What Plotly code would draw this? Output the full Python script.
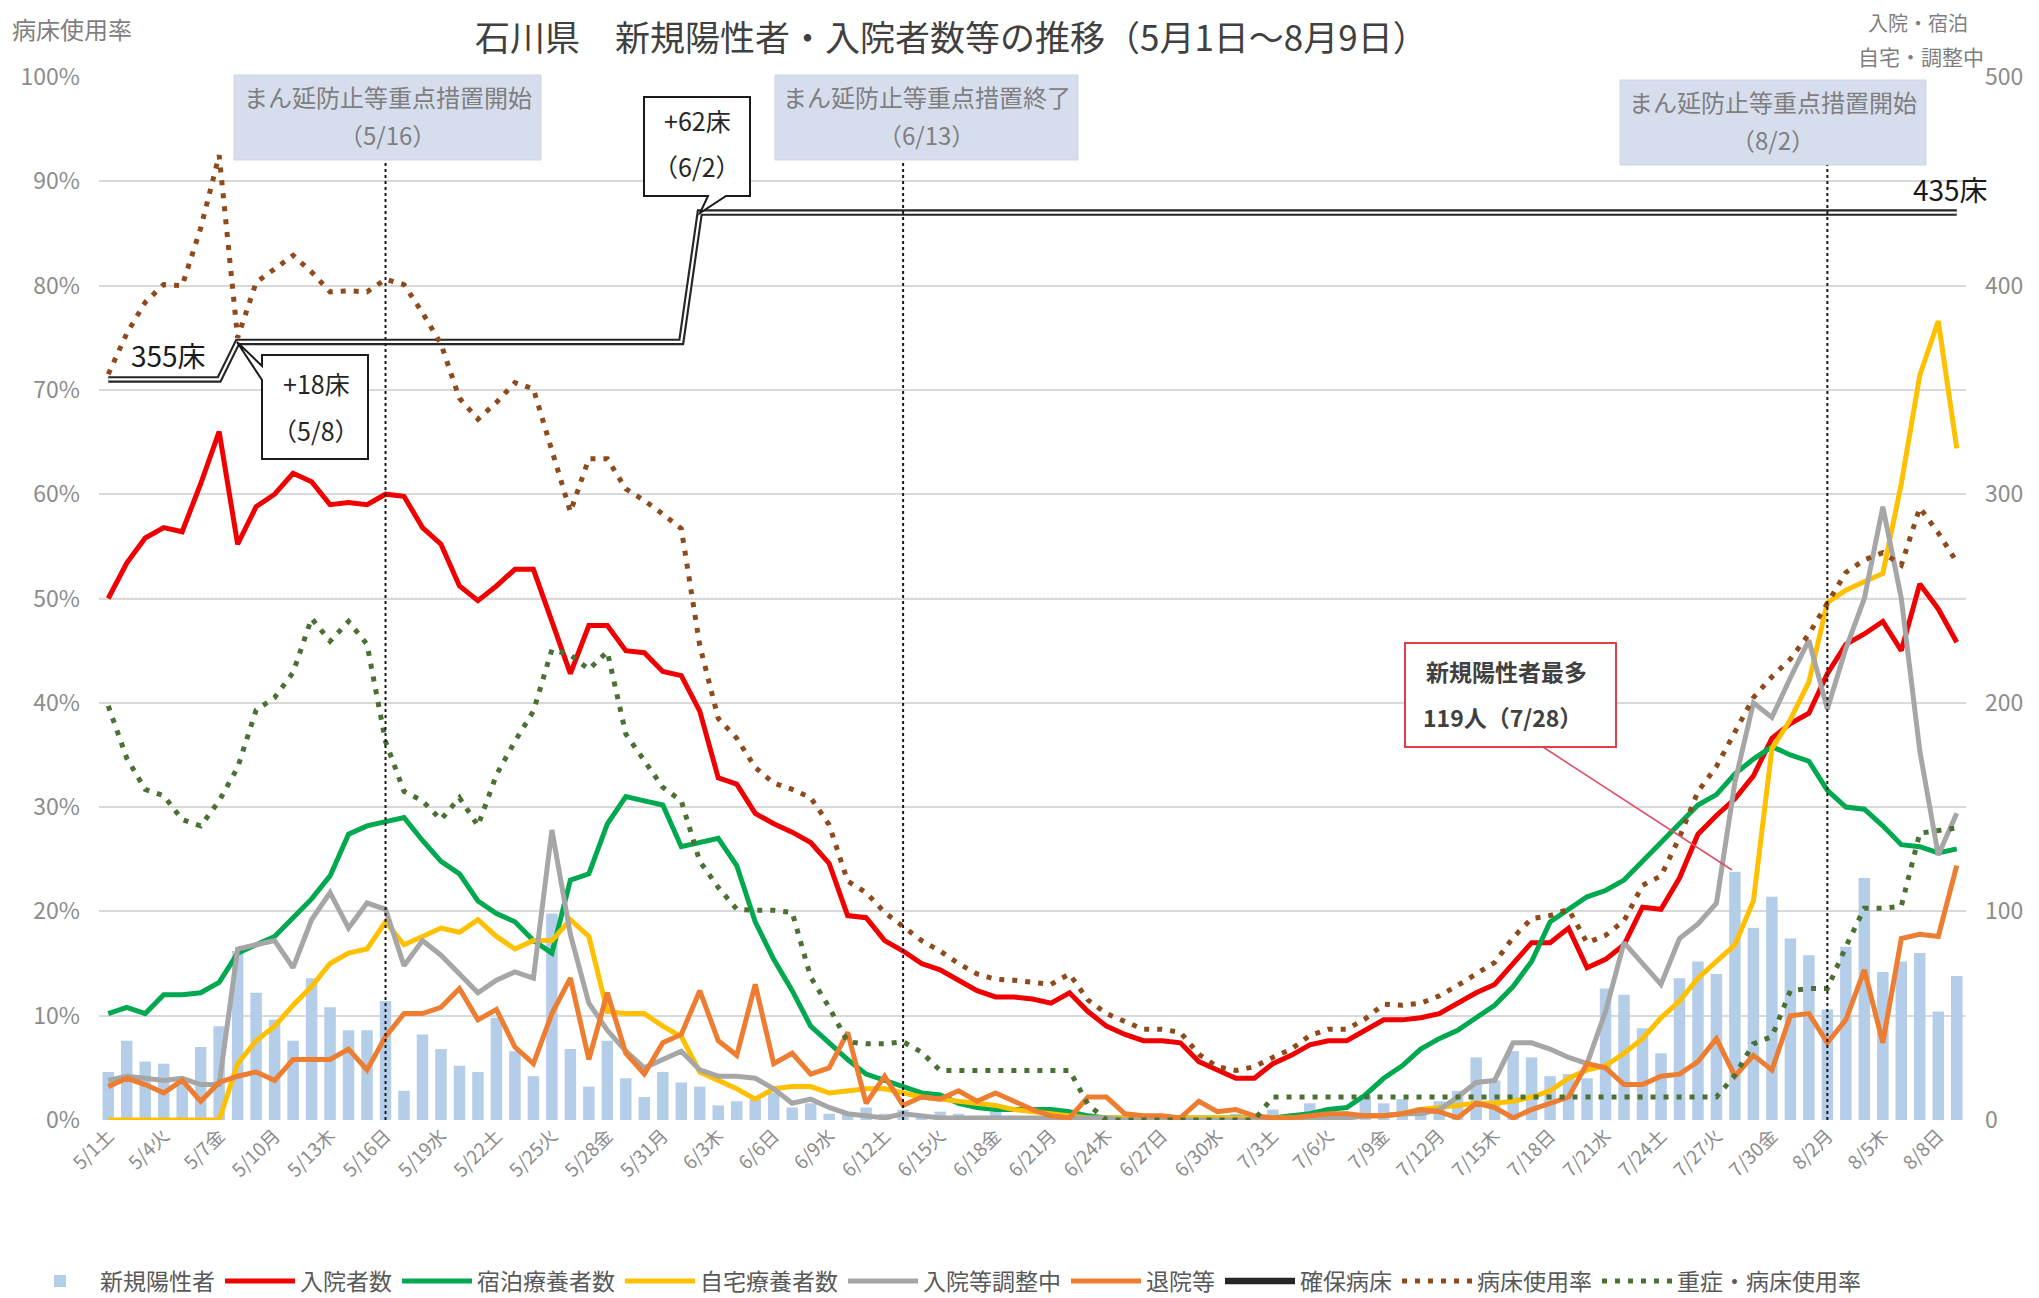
import datetime
import plotly.graph_objects as go

# ---------------- data ----------------
start = datetime.date(2021, 5, 1)
WEEKDAYS = "月火水木金土日"
dates = [start + datetime.timedelta(days=i) for i in range(101)]
date_labels = [f"{d.month}/{d.day}{WEEKDAYS[d.weekday()]}" for d in dates]
x_idx = list(range(len(date_labels)))

new_cases = [23, 38, 28, 27, 18, 35, 45, 81, 61, 48,
             38, 68, 54, 43, 43, 57, 14, 41, 34, 26,
             23, 49, 33, 21, 99, 34, 16, 38, 20, 11,
             23, 18, 16, 7, 9, 10, 13, 6, 8, 3,
             3, 6, 3, 5, 2, 4, 3, 2, 4, 2,
             1, 3, 1, 1, 2, 0, 1, 2, 0, 1,
             2, 3, 1, 5, 2, 8, 6, 4, 12, 8,
             10, 6, 9, 14, 30, 19, 33, 30, 21, 22,
             20, 63, 60, 44, 32, 68, 76, 70, 119, 92,
             107, 87, 79, 53, 83, 116, 71, 76, 80, 52, 69]

hospitalized = [250, 267, 279, 284, 282, 305, 330, 276, 294, 300,
                310, 306, 295, 296, 295, 300, 299, 284, 276, 256,
                249, 256, 264, 264, 239, 214, 237, 237, 225, 224,
                215, 213, 196, 164, 161, 147, 142, 138, 133, 123,
                98, 97, 86, 81, 75, 72, 67, 62, 59, 59,
                58, 56, 61, 52, 45, 41, 38, 38, 37, 28,
                24, 20, 20, 27, 31, 36, 38, 38, 43, 48,
                48, 49, 51, 56, 61, 65, 75, 85, 85, 92,
                73, 77, 84, 102, 101, 116, 137, 146, 154, 165,
                183, 190, 195, 214, 228, 233, 239, 225, 257, 245, 229]

hotel = [51, 54, 51, 60, 60, 61, 66, 80, 84, 88,
         97, 106, 117, 137, 141, 143, 145, 134, 124, 118,
         105, 99, 95, 86, 80, 115, 118, 142, 155, 153,
         151, 131, 133, 135, 122, 95, 77, 62, 45, 37,
         29, 22, 19, 16, 13, 12, 8, 6, 5, 5,
         5, 5, 4, 2, 1, 1, 1, 1, 1, 1,
         1, 1, 1, 1, 2, 3, 5, 6, 12, 20,
         26, 34, 39, 43, 49, 55, 64, 76, 95, 101,
         107, 110, 115, 124, 133, 142, 151, 156, 166, 173,
         179, 175, 172, 158, 150, 149, 141, 132, 131, 128, 130]

home = [0, 0, 0, 0, 0, 0, 0, 27, 38, 45,
        55, 64, 75, 80, 82, 95, 84, 88, 92, 90,
        96, 88, 82, 86, 86, 96, 88, 52, 51, 51,
        45, 40, 23, 19, 15, 10, 15, 16, 16, 13,
        14, 15, 15, 13, 11, 10, 9, 8, 7, 5,
        4, 3, 2, 1, 1, 1, 1, 1, 1, 1,
        1, 1, 1, 1, 1, 1, 1, 1, 2, 2,
        3, 5, 6, 7, 8, 8, 9, 11, 14, 20,
        24, 26, 32, 39, 49, 57, 68, 76, 84, 105,
        178, 192, 210, 248, 254, 258, 262, 305, 357, 383, 322]

adjusting = [19, 21, 20, 19, 20, 17, 17, 82, 84, 86,
             73, 96, 109, 92, 104, 101, 74, 86, 79, 70,
             61, 67, 71, 68, 139, 89, 56, 43, 33, 25,
             29, 33, 24, 21, 21, 20, 15, 8, 10, 6,
             3, 2, 1, 3, 2, 1, 1, 1, 1, 1,
             1, 1, 1, 1, 1, 0, 0, 0, 0, 0,
             0, 0, 0, 0, 1, 1, 1, 1, 2, 2,
             3, 3, 5, 11, 18, 19, 37, 37, 34, 30,
             27, 52, 85, 75, 65, 87, 94, 104, 162, 200,
             193, 212, 230, 197, 226, 250, 294, 250, 177, 127, 147]

discharged = [16, 20, 17, 13, 19, 9, 18, 21, 23, 19,
              29, 29, 29, 34, 24, 40, 51, 51, 54, 63,
              48, 53, 35, 27, 51, 68, 29, 61, 32, 22,
              37, 41, 62, 38, 31, 65, 27, 32, 22, 25,
              42, 8, 21, 7, 11, 10, 14, 9, 13, 9,
              5, 2, 1, 11, 11, 3, 2, 2, 1, 9,
              4, 5, 2, 1, 1, 2, 3, 3, 2, 2,
              3, 5, 4, 1, 8, 6, 1, 5, 8, 11,
              27, 25, 17, 17, 21, 22, 28, 39, 21, 31,
              24, 50, 51, 37, 48, 72, 37, 87, 89, 88, 122]

beds = [355] * 7 + [373] * 25 + [435] * 69

occupancy_pct = [71.5, 75.4, 78.4, 80.1, 80.0, 85.5, 92.5, 75.0, 80.3, 81.6,
                 82.9, 81.3, 79.4, 79.5, 79.4, 80.6, 80.1, 77.4, 74.4, 69.2,
                 67.2, 68.8, 70.7, 70.1, 64.0, 58.3, 63.4, 63.4, 60.5, 59.4,
                 58.1, 56.7, 45.5, 38.5, 36.6, 33.8, 32.3, 31.7, 30.9, 28.3,
                 22.9, 21.8, 19.9, 18.5, 17.2, 16.2, 15.0, 14.0, 13.5, 13.4,
                 13.2, 13.0, 14.0, 11.5, 10.2, 9.4, 8.7, 8.7, 8.4, 6.3,
                 5.1, 4.75, 5.1, 6.0, 6.8, 8.1, 8.7, 8.7, 9.7, 11.1,
                 11.0, 11.2, 11.9, 12.9, 14.0, 15.1, 17.5, 19.3, 19.6, 20.2,
                 17.0, 17.7, 19.1, 22.5, 23.4, 27.1, 31.5, 33.9, 37.2, 40.5,
                 42.5, 44.2, 46.6, 49.5, 52.5, 53.7, 54.4, 53.2, 58.7, 56.3, 53.5]

severe_pct = [39.7, 34.7, 31.7, 31.1, 28.8, 28.2, 30.6, 33.8, 39.3, 40.5,
              42.9, 48.1, 45.9, 47.8, 45.6, 36.3, 31.5, 30.6, 28.8, 30.9,
              28.2, 33.1, 36.3, 39.2, 45.1, 44.6, 43.2, 44.9, 37.0, 34.4,
              31.9, 30.6, 24.8, 22.3, 20.2, 20.1, 20.1, 19.9, 13.7, 10.8,
              7.5, 7.3, 7.3, 7.5, 6.5, 4.75, 4.75, 4.75, 4.75, 4.75,
              4.75, 4.75, 4.75, 1.5, 0, 0, 0, 0, 0, 0,
              0, 0, 0, 2.2, 2.2, 2.2, 2.2, 2.2, 2.2, 2.2,
              2.2, 2.2, 2.2, 2.2, 2.2, 2.2, 2.2, 2.2, 2.2, 2.2,
              2.2, 2.2, 2.2, 2.2, 2.2, 2.2, 2.2, 2.2, 4.3, 7.3,
              8.0, 12.4, 12.6, 12.6, 16.6, 20.3, 20.3, 20.5, 27.5, 27.8, 28.0]

pct_ticks = [0, 10, 20, 30, 40, 50, 60, 70, 80, 90, 100]
pct_tick_text = ["0%", "10%", "20%", "30%", "40%", "50%", "60%", "70%", "80%", "90%", "100%"]
count_ticks = [0, 100, 200, 300, 400, 500]
tick_every = 3

# ---------------- layout helpers ----------------
W_FIG, H_FIG = 2039, 1298
PAGE_OFF = 8  # default body margin of the html page
# plot area in screen (reference) pixels
PL, PT, PR, PB = 99, 77, 1966, 1120
PW, PH = PR - PL, PB - PT
FONT = "Noto Sans CJK JP, Noto Sans, sans-serif"
GRAY = "#8c8c8c"


def xp(px):
    return (px - PL) / PW


def yp(py):
    return (PB - py) / PH


def path(pts):
    return "M " + " L ".join(f"{xp(a):.5f},{yp(b):.5f}" for a, b in pts) + " Z"


fig = go.Figure()

fig.add_trace(go.Bar(x=x_idx, y=new_cases, name="新規陽性者", marker=dict(color="#b4cde9", line_width=0),
                     width=0.62, yaxis="y"))
line_specs = [
    (hospitalized, "入院者数", "#f00000"),
    (hotel, "宿泊療養者数", "#00a84f"),
    (home, "自宅療養者数", "#ffc000"),
    (adjusting, "入院等調整中", "#a6a6a6"),
    (discharged, "退院等", "#ed7d31"),
]
for vals, name, col in line_specs:
    fig.add_trace(go.Scatter(x=x_idx, y=vals, name=name, mode="lines",
                             line=dict(color=col, width=5), yaxis="y"))

fig.add_trace(go.Scatter(x=x_idx, y=beds, name="確保病床", mode="lines",
                         line=dict(color="#262626", width=6.5), yaxis="y"))
fig.add_trace(go.Scatter(x=x_idx, y=beds, showlegend=False, mode="lines", hoverinfo="skip",
                         line=dict(color="white", width=2.2), yaxis="y"))

fig.add_trace(go.Scatter(x=x_idx, y=occupancy_pct, name="病床使用率", mode="lines",
                         line=dict(color="#8f4a1c", width=5, dash="5px,8px"), yaxis="y2"))
fig.add_trace(go.Scatter(x=x_idx, y=severe_pct, name="重症・病床使用率", mode="lines",
                         line=dict(color="#4a7034", width=5, dash="5px,8px"), yaxis="y2"))

shapes = []
# 50% reference line
shapes.append(dict(type="line", xref="paper", yref="y2", x0=0, x1=1, y0=50, y1=50, layer="below",
                   line=dict(color="#f39a9a", width=1.6, dash="2px,2px")))
# measure boxes
box_fill = "#d6ddec"
for (x0, y0, x1, y1) in [(234, 75, 541, 160), (775, 75, 1078, 160), (1620, 80, 1926, 165)]:
    shapes.append(dict(type="rect", xref="paper", yref="paper", x0=xp(x0), x1=xp(x1), y0=yp(y1), y1=yp(y0),
                       fillcolor=box_fill, line=dict(color="#cdd5e6", width=1), layer="above"))
# vertical dotted lines at measure dates
for day, ytop in [(15, 160), (43, 160), (93, 165)]:
    shapes.append(dict(type="line", xref="x", yref="paper", x0=day, x1=day, y0=0, y1=yp(ytop),
                       line=dict(color="#1a1a1a", width=2, dash="3px,3px")))
# callouts
shapes.append(dict(type="path", xref="paper", yref="paper", fillcolor="white",
                   line=dict(color="#1a1a1a", width=2),
                   path=path([(644, 97), (750, 97), (750, 196), (726, 196), (700, 213), (708, 196), (644, 196)])))
shapes.append(dict(type="path", xref="paper", yref="paper", fillcolor="white",
                   line=dict(color="#1a1a1a", width=2),
                   path=path([(262, 355), (368, 355), (368, 459), (262, 459), (262, 380), (237, 342), (262, 366)])))
# red callout
shapes.append(dict(type="line", xref="paper", yref="paper", x0=xp(1543), y0=yp(747), x1=xp(1732), y1=yp(870),
                   line=dict(color="#e0506a", width=1.6)))
shapes.append(dict(type="rect", xref="paper", yref="paper", x0=xp(1405), x1=xp(1616), y0=yp(747), y1=yp(643),
                   fillcolor="white", line=dict(color="#e0404a", width=2)))

annotations = []


def txt(text, px, py, size, color, xanchor="center", yanchor="middle", bold=False):
    if bold:
        text = f"<b>{text}</b>"
    annotations.append(dict(text=text, x=xp(px), y=yp(py), xref="paper", yref="paper", showarrow=False,
                            xanchor=xanchor, yanchor=yanchor,
                            font=dict(size=size, color=color, family=FONT)))


txt("石川県　新規陽性者・入院者数等の推移（5月1日～8月9日）", 951, 8, 35, "#404040", yanchor="top")
txt("病床使用率", 10, 9, 24, "#7f7f7f", xanchor="left", yanchor="top")
txt("入院・宿泊", 1918, 22, 20, "#7f7f7f")
txt("自宅・調整中", 1921, 56, 21, "#7f7f7f")

txt("まん延防止等重点措置開始", 387.5, 96, 24, "#7f7f7f")
txt("（5/16）", 387.5, 134, 24, "#7f7f7f")
txt("まん延防止等重点措置終了", 926.5, 96, 24, "#7f7f7f")
txt("（6/13）", 926.5, 134, 24, "#7f7f7f")
txt("まん延防止等重点措置開始", 1773, 101, 24, "#7f7f7f")
txt("（8/2）", 1773, 139, 24, "#7f7f7f")

txt("+62床", 697, 120, 25, "#262626")
txt("（6/2）", 697, 166, 25, "#262626")
txt("+18床", 316, 383, 25, "#262626")
txt("（5/8）", 316, 430, 25, "#262626")
txt("355床", 168, 355, 28, "#1a1a1a")
txt("435床", 1950, 189, 28, "#1a1a1a")

txt("新規陽性者最多", 1424, 671, 23, "#404040", xanchor="left", bold=True)
txt("119人（7/28）", 1421, 717, 23, "#404040", xanchor="left", bold=True)

fig.update_layout(
    width=W_FIG, height=H_FIG,
    margin=dict(l=PL - PAGE_OFF, r=W_FIG - (PR - PAGE_OFF), t=PT - PAGE_OFF, b=H_FIG - (PB - PAGE_OFF),
                autoexpand=False),
    paper_bgcolor="white", plot_bgcolor="white",
    font=dict(family=FONT, color="#595959"),
    bargap=0.38,
    showlegend=True,
    legend=dict(orientation="h", xref="container", yref="container",
                x=(20 - PAGE_OFF) / W_FIG, y=1 - (1281 - PAGE_OFF) / H_FIG, xanchor="left", yanchor="middle",
                font=dict(size=23, color="#595959"), itemwidth=70, bgcolor="rgba(0,0,0,0)",
                traceorder="normal"),
    xaxis=dict(range=[-0.5, 100.5], tickmode="array", tickvals=x_idx[::tick_every],
               ticktext=date_labels[::tick_every], tickangle=-45, showgrid=False, zeroline=False,
               showline=False, ticks="", tickfont=dict(size=19, color=GRAY), automargin=False),
    yaxis=dict(range=[0, 500], side="right", tickmode="array", tickvals=count_ticks, showgrid=False,
               zeroline=False, showline=False, ticks="", tickfont=dict(size=23, color=GRAY),
               ticklabelstandoff=18, automargin=False),
    yaxis2=dict(range=[0, 100], side="left", overlaying="y", tickmode="array", tickvals=pct_ticks,
                ticktext=pct_tick_text, showgrid=True, gridcolor="#d9d9d9", gridwidth=1.5, zeroline=False,
                showline=False, ticks="", tickfont=dict(size=23, color=GRAY), ticklabelstandoff=18,
                automargin=False),
    shapes=shapes,
    annotations=annotations,
)

fig.write_html("out.html")
